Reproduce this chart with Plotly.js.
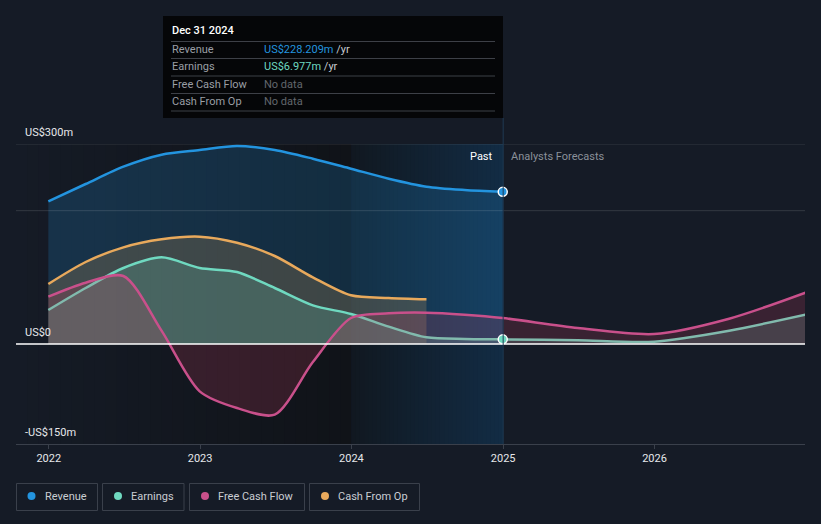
<!DOCTYPE html>
<html><head><meta charset="utf-8">
<script src="https://cdn.plot.ly/plotly-3.0.1.min.js"></script>
<style>html,body{margin:0;padding:0;background:#151b26;} #chart{width:821px;height:524px;}</style>
</head><body><div id="chart"></div>
<script>
// ---- data ----
const pastDates = ['2021-12-31','2022-03-31','2022-06-30','2022-09-30','2022-12-31','2023-03-31','2023-06-30','2023-09-30','2023-12-31','2024-03-31','2024-06-30','2024-09-30','2024-12-31'];
const revenue      = [214, 240, 266, 284, 291, 297, 291, 278, 263, 248, 236, 231, 228.209];
const earningsPast = [51, 84, 114, 130, 114, 108, 84, 58, 45, 26, 10, 7.5, 6.977];
const fcfPast      = [71, 92, 102, 20, -71, -96, -106, -27, 39, 46, 47, 44, 39];
const cfoDates     = ['2021-12-31','2022-03-31','2022-06-30','2022-09-30','2022-12-31','2023-03-31','2023-06-30','2023-09-30','2023-12-31','2024-03-31','2024-06-30'];
const cashFromOp   = [90, 123, 145, 157, 161, 152, 132, 100, 73, 69, 67];
const forecastDates    = ['2025-06-30','2025-12-31','2026-06-30','2026-12-31'];
const earningsForecast = [5.5, 3.5, 20, 44];
const fcfForecast      = [24, 15, 38, 77];
const xTickVals = ['2022-01-01','2023-01-01','2024-01-01','2025-01-01','2026-01-01'];
const xTickText = ['2022','2023','2024','2025','2026'];
const yLabelVals = [300, 0, -150];
const yLabelText = ['US$300m','US$0','-US$150m'];
const seriesNames = ['Revenue','Earnings','Free Cash Flow','Cash From Op'];
const seriesColors = ['#2394df','#6fd9c0','#c9508b','#e8a95c'];
const tipDate = 'Dec 31 2024';
const tipRows = ['Revenue','Earnings','Free Cash Flow','Cash From Op'];
const tipValues = ['US$228.209m','US$6.977m','No data','No data'];

// ---- layout helpers (pixel -> paper) ----
const L=16, R=805, T=144, B=444;
const px = x => (x-L)/(R-L);
const py = y => (B-y)/(B-T);
const xStart='2021-10-14', xEnd='2026-12-30';
const yMin=-150, yMax=300;

const shapes = [];
const annotations = [];

// background bands as stepped gradients
function mix(c1, c2, t){
  const a=[1,3,5].map(i=>parseInt(c1.substr(i,2),16));
  const b=[1,3,5].map(i=>parseInt(c2.substr(i,2),16));
  return 'rgb('+a.map((v,k)=>Math.round(v+(b[k]-v)*t)).join(',')+')';
}
function band(d0, d1, c0, c1, n){
  const t0=new Date(d0).getTime(), t1=new Date(d1).getTime();
  for(let i=0;i<n;i++){
    const a=t0+(t1-t0)*i/n, b=t0+(t1-t0)*(i+1)/n + (i<n-1 ? (t1-t0)/n*0.3 : 0);
    shapes.push({type:'rect', xref:'x', yref:'y', x0:a, x1:b, y0:yMin, y1:yMax, fillcolor:mix(c0,c1,(i+0.5)/n), line:{width:0}, layer:'below'});
  }
}
band(xStart, '2024-01-01', '#151b26', '#101318', 30);
band('2024-01-01', xTickVals[3], '#111820', '#122c44', 36);

const traces = [];
const lineOpts = (c)=>({color:c, width:2.5, shape:'spline', smoothing:0.8});
traces.push({x:pastDates, y:revenue, mode:'lines', line:lineOpts(seriesColors[0]), fill:'tozeroy', fillcolor:'rgba(35,148,223,0.2)', hoverinfo:'skip', showlegend:false});
traces.push({x:cfoDates, y:cashFromOp, mode:'lines', line:lineOpts(seriesColors[3]), fill:'tozeroy', fillcolor:'rgba(232,169,92,0.2)', hoverinfo:'skip', showlegend:false});
traces.push({x:pastDates.concat(forecastDates), y:earningsPast.concat(earningsForecast), mode:'lines', line:lineOpts(seriesColors[1]), fill:'tozeroy', fillcolor:'rgba(111,217,192,0.2)', hoverinfo:'skip', showlegend:false});
traces.push({x:pastDates.concat(forecastDates), y:fcfPast.concat(fcfForecast), mode:'lines', line:lineOpts(seriesColors[2]), fill:'tozeroy', fillcolor:'rgba(205,65,100,0.2)', hoverinfo:'skip', showlegend:false});
// end markers
const lastDate = pastDates[pastDates.length-1];
traces.push({x:[lastDate], y:[revenue[revenue.length-1]], mode:'markers', marker:{size:9, color:seriesColors[0], line:{color:'#ffffff', width:1.5}}, hoverinfo:'skip', showlegend:false, cliponaxis:false});
traces.push({x:[lastDate], y:[earningsPast[earningsPast.length-1]], mode:'markers', marker:{size:9, color:seriesColors[1], line:{color:'#ffffff', width:1.5}}, hoverinfo:'skip', showlegend:false, cliponaxis:false});

// gridlines
[200,300].forEach(v=>shapes.push({type:'line', xref:'paper', yref:'y', x0:0, x1:1, y0:v, y1:v, line:{color:'rgba(255,255,255,0.13)', width:1}, layer:'above'}));
// zero line
shapes.push({type:'line', xref:'paper', yref:'y', x0:0, x1:1, y0:0, y1:0, line:{color:'#ffffff', width:1.5}, layer:'above'});
// past/forecast divider
shapes.push({type:'line', xref:'x', yref:'paper', x0:xTickVals[3], x1:xTickVals[3], y0:0, y1:py(118), line:{color:'#1f3a52', width:1}, layer:'above'});
// y labels
yLabelVals.forEach((v,i)=>annotations.push({xref:'paper', yref:'y', x:px(23), y:v, yshift:12, text:yLabelText[i], showarrow:false, xanchor:'left', yanchor:'middle', font:{size:11, color:'#e6e8eb'}}));
// past / forecast labels
annotations.push({xref:'paper', yref:'paper', x:px(495), y:py(156), text:'Past', showarrow:false, xanchor:'right', yanchor:'middle', font:{size:11, color:'#ffffff'}});
annotations.push({xref:'paper', yref:'paper', x:px(509), y:py(156), text:'Analysts Forecasts', showarrow:false, xanchor:'left', yanchor:'middle', font:{size:11, color:'#8a9099'}});

// tooltip box
shapes.push({type:'rect', xref:'paper', yref:'paper', x0:px(163), x1:px(503), y0:py(118), y1:py(16), fillcolor:'#050608', line:{width:0}, layer:'above'});
[41.5,58.5,76,93.5,111].forEach(y=>shapes.push({type:'line', xref:'paper', yref:'paper', x0:px(171), x1:px(495), y0:py(y), y1:py(y), line:{color:'#3d4047', width:1}, layer:'above'}));
annotations.push({xref:'paper', yref:'paper', x:px(170), y:py(31), text:tipDate, showarrow:false, xanchor:'left', yanchor:'middle', font:{size:11, color:'#ffffff', weight:500}});
const rowY=[49.5,66.5,84,101];
const valColors=[seriesColors[0], seriesColors[1], '#62666d', '#62666d'];
tipRows.forEach((r,i)=>{
  annotations.push({xref:'paper', yref:'paper', x:px(170), y:py(rowY[i]), text:r, showarrow:false, xanchor:'left', yanchor:'middle', font:{size:11, color:'#9a9ea5'}});
  const t = i<2 ? `<span style="color:${valColors[i]}">${tipValues[i]}</span> /yr` : tipValues[i];
  annotations.push({xref:'paper', yref:'paper', x:px(262), y:py(rowY[i]), text:t, showarrow:false, xanchor:'left', yanchor:'middle', font:{size:11, color: i<2 ? '#c8ccd2' : valColors[i]}});
});

// legend boxes
const boxX=[[16.5,97.5],[102.5,184],[189.5,304.5],[309.5,419.5]];
const dotX=[31.5,118,205,325];
const txtX=[43,129,216,336];
seriesNames.forEach((n,i)=>{
  shapes.push({type:'rect', xref:'paper', yref:'paper', x0:px(boxX[i][0]), x1:px(boxX[i][1]), y0:py(510.5), y1:py(483.5), line:{color:'#3a404b', width:1}, fillcolor:'rgba(0,0,0,0)', layer:'above'});
  shapes.push({type:'circle', xref:'paper', yref:'paper', x0:px(dotX[i]-4), x1:px(dotX[i]+4), y0:py(500), y1:py(492), line:{width:0}, fillcolor:seriesColors[i], layer:'above'});
  annotations.push({xref:'paper', yref:'paper', x:px(txtX[i]), y:py(496.5), text:n, showarrow:false, xanchor:'left', yanchor:'middle', font:{size:11, color:'#c9cdd3'}});
});

const layout = {
  width:821, height:524,
  margin:{l:L, r:821-R, t:T, b:524-B, pad:0},
  paper_bgcolor:'#151b26', plot_bgcolor:'#151b26',
  font:{family:'Roboto, "Open Sans", sans-serif', color:'#e0e0e0'},
  showlegend:false, hovermode:false,
  xaxis:{type:'date', range:[xStart,xEnd], tickvals:xTickVals, ticktext:xTickText, showgrid:false, zeroline:false,
    showline:true, linecolor:'#3a404b', linewidth:1, ticks:'outside', ticklen:4, tickcolor:'#3a404b',
    tickfont:{size:11, color:'#e6e8eb'}, fixedrange:true},
  yaxis:{range:[yMin,yMax], showgrid:false, zeroline:false, showticklabels:false, ticks:'', fixedrange:true},
  shapes:shapes, annotations:annotations
};
Plotly.newPlot('chart', traces, layout, {displayModeBar:false, staticPlot:true});
</script></body></html>
